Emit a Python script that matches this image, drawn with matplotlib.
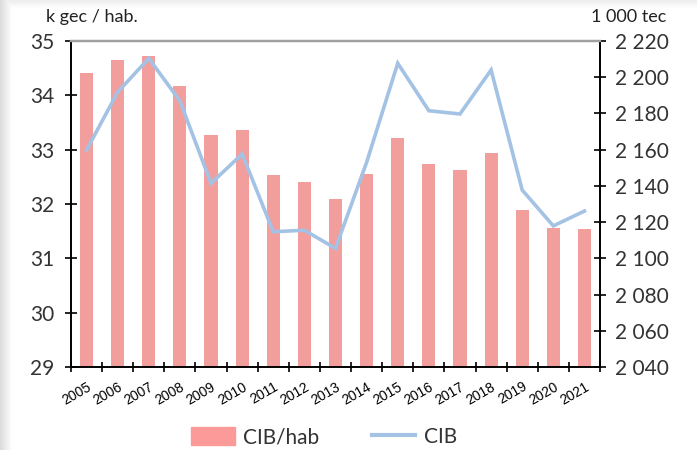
import numpy as np
import matplotlib
matplotlib.use("Agg")
import matplotlib.pyplot as plt
from matplotlib.patches import Patch
from matplotlib.lines import Line2D

# données
annees = [str(a) for a in range(2005, 2022)]
cib_hab = [34.41, 34.65, 34.72, 34.17, 33.27, 33.36, 32.53, 32.41, 32.09,
           32.55, 33.21, 32.74, 32.63, 32.94, 31.89, 31.56, 31.54]
cib = [2159.8, 2191.8, 2210.4, 2186.9, 2141.4, 2157.6, 2114.7, 2115.5, 2105.5,
       2153.0, 2207.7, 2181.5, 2179.7, 2204.0, 2137.7, 2117.9, 2126.1]
ticks_gauche = [29, 30, 31, 32, 33, 34, 35]
ticks_droite = list(range(2040, 2221, 20))

couleur_barres = "#F29E9C"
couleur_ligne = "#A4C2E4"
police = ["Lato", "DejaVu Sans"]

plt.rcParams["font.family"] = police

fig = plt.figure(figsize=(6.97, 4.5), dpi=100)

# ombre légère sur les bords gauche et haut
fond = fig.add_axes([0, 0, 1, 1], zorder=-10)
xx = np.arange(697)
yy = np.arange(450)
ombre_g = np.clip(1 - xx / 12.0, 0, 1)[None, :] * 0.14
ombre_h = np.clip(1 - yy / 8.0, 0, 1)[:, None] * 0.07
img = 1 - np.maximum(ombre_g, ombre_h)
fond.imshow(img, cmap="gray", vmin=0, vmax=1, aspect="auto",
            interpolation="bilinear")
fond.set_axis_off()

ax = fig.add_axes([71 / 697, 1 - 367 / 450, 529 / 697, 326 / 450])
ax.patch.set_alpha(0)
x = np.arange(len(annees))
ax.bar(x, cib_hab, width=0.42, color=couleur_barres, zorder=2)
ax.set_xlim(-0.5, len(annees) - 0.5)
ax.set_ylim(29, 35)
ax.set_yticks(ticks_gauche)
ax.set_yticklabels([str(t) for t in ticks_gauche], fontsize=15, color="#333333")
ax.set_xticks(x)
ax.set_xticklabels(annees, rotation=30, ha="right", rotation_mode="anchor",
                   fontsize=10, family=["Liberation Sans", "DejaVu Sans"])
ax.set_xticks(np.arange(-0.5, len(annees)), minor=True)
ax.tick_params(axis="x", which="major", length=0, pad=9)
ax.tick_params(axis="x", which="minor", direction="inout", length=7, width=1.2)
ax.tick_params(axis="y", direction="inout", length=8, width=1.2, pad=8)

ax2 = ax.twinx()
ax2.plot(x, cib, color=couleur_ligne, lw=2.6, zorder=3, solid_joinstyle="miter")
ax2.set_ylim(2040, 2220)
ax2.set_yticks(ticks_droite)
ax2.set_yticklabels([f"{t:,}".replace(",", " ") for t in ticks_droite],
                    fontsize=15, color="#333333")
ax2.tick_params(axis="y", direction="inout", length=8, width=1.2, pad=7)

for a in (ax, ax2):
    a.spines["top"].set_color("#A0A0A0")
    a.spines["top"].set_linewidth(1.6)
    for s in ("left", "right", "bottom"):
        a.spines[s].set_color("black")
        a.spines[s].set_linewidth(1.2)

fig.text(46 / 697, 1 - 17 / 450, "k gec / hab.", fontsize=13, color="#222222",
         ha="left", va="center")
fig.text(666 / 697, 1 - 17 / 450, "1 000 tec", fontsize=13, color="#222222",
         ha="right", va="center")

poignees = [Patch(color="#FC9A9A"), Line2D([0], [0], color=couleur_ligne, lw=3)]
fig.legend(poignees, ["CIB/hab", "CIB"], loc="center", ncol=2,
           bbox_to_anchor=(324 / 697, 1 - 437 / 450), frameon=False,
           fontsize=15, handlelength=2.1, handleheight=1.0, columnspacing=2.5,
           handletextpad=0.4, labelcolor="#333333")

fig.savefig("out.png", dpi=100)
